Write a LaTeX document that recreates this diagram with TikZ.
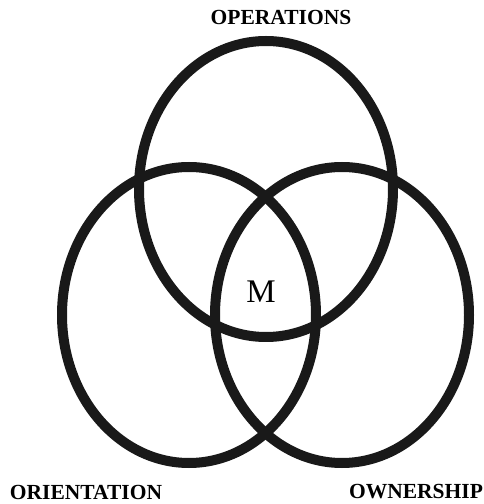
\documentclass[tikz,border=0pt]{standalone}
\usepackage{fontspec}
\setmainfont{Liberation Serif}
\usetikzlibrary{shapes.geometric}
\tikzset{
  ring/.style={draw=black!90, ellipse, line width=10pt, inner sep=0pt,
               minimum width=254pt, minimum height=296pt},
  lbl/.style={font=\fontsize{21.5}{24}\selectfont\bfseries, inner sep=0pt},
  core/.style={font=\fontsize{33}{36}\selectfont, inner sep=0pt},
}

\begin{document}
\begin{tikzpicture}[x=1pt, y=1pt]
\useasboundingbox (0,0) rectangle (483,504);

%% ── the three rings ───────────────────────────────────────────────────────
\node[ring] (ops) at (266,315) {};
\node[ring] (ori) at (189,189) {};
\node[ring] (own) at (342,189) {};

%% ── labels ────────────────────────────────────────────────────────────────
\node[lbl] (opsl) at (281,487) {OPERATIONS};
\node[lbl] (oril) at (86,12) {ORIENTATION};
\node[lbl] (ownl) at (416,12) {OWNERSHIP};

\node[core] (m) at (261,212) {M};

\end{tikzpicture}
\end{document}
